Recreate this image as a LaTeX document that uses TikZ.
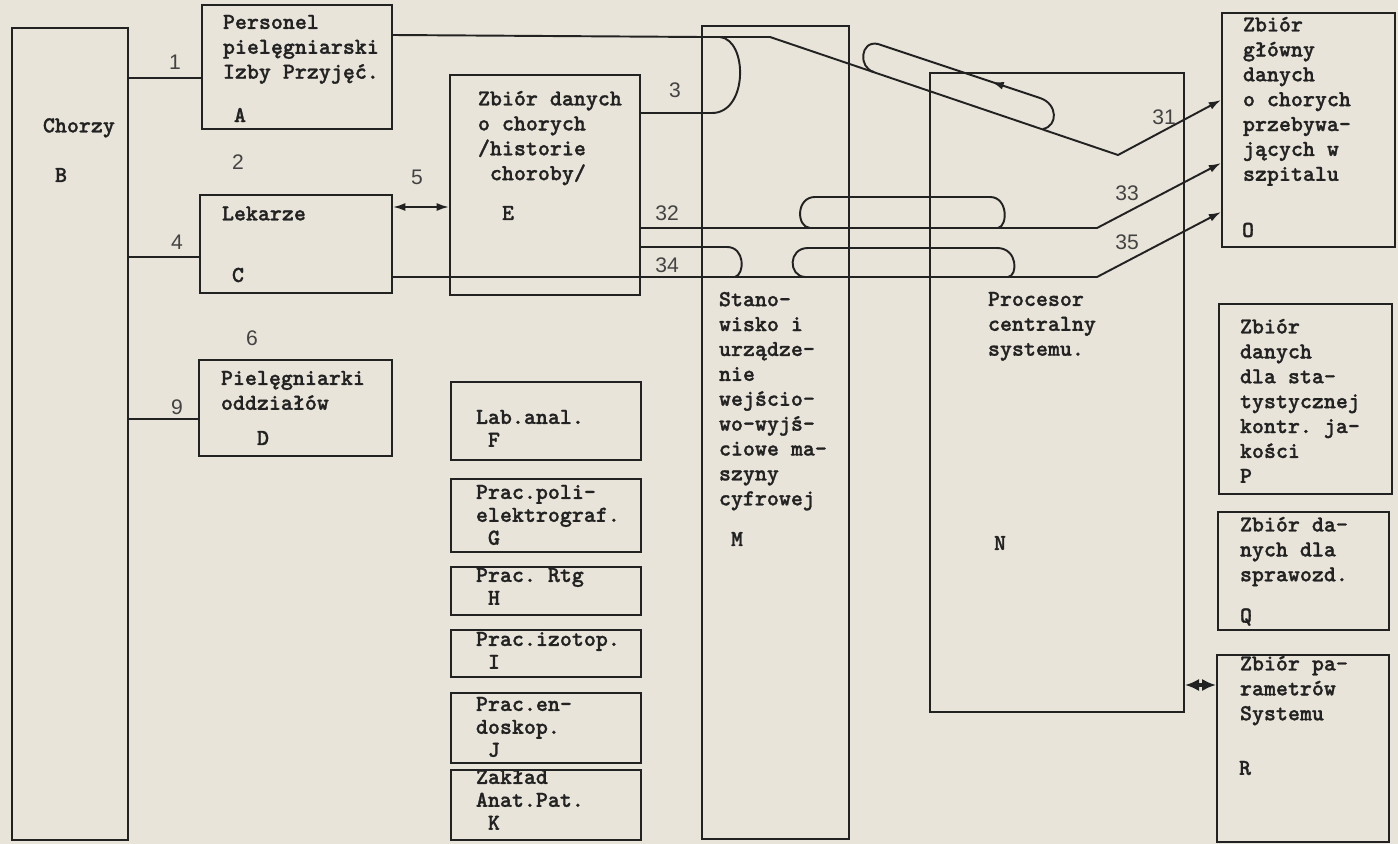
\documentclass[tikz,border=0pt]{standalone}
\usepackage{fontspec}
\setsansfont{Liberation Sans}
\newfontfamily\maszyna{lmmonolt10-bold.otf}[FakeBold=1.2]
\usepackage{tikz}
\usetikzlibrary{positioning, calc, fit, arrows.meta, decorations.markings}
\definecolor{papier}{RGB}{232,228,217}
\definecolor{tusz}{RGB}{34,34,34}
\frenchspacing

\begin{document}
\begin{tikzpicture}[x=0.02cm, y=-0.02cm, line width=1.1pt, color=tusz,
    >={Latex[length=7pt,width=4.5pt]},
    blok/.style={draw=tusz, line width=1.1pt, inner sep=0pt, fit={#1}},
    tekst/.style={anchor=north west, inner sep=0pt, align=left,
        font=\maszyna\fontsize{13}{14.17}\selectfont,
        execute at begin node=\strut},
    maly/.style={tekst, font=\maszyna\fontsize{13}{13.04}\selectfont},
    litera/.style={inner sep=0pt, font=\maszyna\fontsize{13}{14.17}\selectfont},
    nr/.style={inner sep=0pt, text=tusz!85, font=\sffamily\fontsize{12}{14}\selectfont},
    strzalka/.style={postaction={decorate},
        decoration={markings, mark=at position 0.3 with {\arrow{Latex[length=7pt,width=4.5pt]}}}}]

    % ==========================================
    % Paper and frame
    % ==========================================
    \fill[papier] (0,0) rectangle (1398,844);
    \useasboundingbox (0,0) rectangle (1398,844);

    % ==========================================
    % LEFT COLUMN: patients and staff
    % ==========================================
    \node[blok={(12,28) (128,840)}] (B) {};
    \node[tekst] (tB) at (42,114) {Chorzy};
    \node[litera] (lB) at (61,175) {B};

    \node[blok={(202,5) (392,129)}] (A) {};
    \node[tekst] (tA) at (222,14) {Personel\\pielęgniarski\\Izby Przyjęć.};
    \node[litera] (lA) at (240,115) {A};

    \node[blok={(200,195) (392,293)}] (C) {};
    \node[tekst] (tC) at (221,202) {Lekarze};
    \node[litera] (lC) at (238,275) {C};

    \node[blok={(199,360) (392,456)}] (D) {};
    \node[tekst] (tD) at (220,370) {Pielęgniarki\\oddziałów};
    \node[litera] (lD) at (263,438) {D};

    % ==========================================
    % MIDDLE: case records and departments
    % ==========================================
    \node[blok={(450,75) (640,295)}] (E) {};
    \node[tekst] (tE) at (477,90) {Zbiór danych\\o chorych\\/historie\\\hphantom{c}choroby/};
    \node[litera] (lE) at (508,213) {E};

    \node[blok={(451,382) (641,460)}] (F) {};
    \node[maly] (tF) at (475,409) {Lab.anal.\\\hphantom{x}F};
    \node[blok={(451,479) (641,552)}] (G) {};
    \node[maly] (tG) at (475,484) {Prac.poli-\\elektrograf.\\\hphantom{x}G};
    \node[blok={(451,567) (641,615)}] (H) {};
    \node[maly] (tH) at (475,567) {Prac. Rtg\\\hphantom{x}H};
    \node[blok={(451,630) (641,677)}] (I) {};
    \node[maly] (tI) at (475,631) {Prac.izotop.\\\hphantom{x}I};
    \node[blok={(451,693) (641,763)}] (J) {};
    \node[maly] (tJ) at (475,696) {Prac.en-\\doskop.\\\hphantom{x}J};
    \node[blok={(451,770) (641,840)}] (K) {};
    \node[maly] (tK) at (475,769) {Zakład\\Anat.Pat.\\\hphantom{x}K};

    \node[blok={(702,26) (849,839)}] (M) {};
    \node[tekst] (tM) at (718,291) {Stano-\\wisko i\\urządze-\\nie\\wejścio-\\wo-wyjś-\\ciowe ma-\\szyny\\cyfrowej};
    \node[litera] (lM) at (737,539) {M};

    \node[blok={(930,73) (1184,712)}] (N) {};
    \node[tekst] (tN) at (987,291) {Procesor\\centralny\\systemu.};
    \node[litera] (lN) at (1000,543) {N};

    % ==========================================
    % RIGHT COLUMN: data files
    % ==========================================
    \node[blok={(1222,13) (1395,247)}] (O) {};
    \node[tekst] (tO) at (1242,16) {Zbiór\\główny\\danych\\o chorych\\przebywa-\\jących w\\szpitalu};
    \node[litera] (lO) at (1248,230) {O};

    \node[blok={(1219,304) (1392,494)}] (P) {};
    \node[tekst] (tP) at (1239,318) {Zbiór\\danych\\dla sta-\\tystycznej\\kontr. ja-\\kości\\P};

    \node[blok={(1218,512) (1389,630)}] (Q) {};
    \node[tekst] (tQ) at (1239,516) {Zbiór da-\\nych dla\\sprawozd.};
    \node[litera] (lQ) at (1246,617) {Q};

    \node[blok={(1217,655) (1389,842)}] (R) {};
    \node[tekst] (tR) at (1239,655) {Zbiór pa-\\rametrów\\Systemu};
    \node[litera] (lR) at (1245,768) {R};

    % ==========================================
    % Connections
    % ==========================================
    % 1, 4, 9
    \draw (B.east |- 0,78) -- (A.west |- 0,78);
    \draw (B.east |- 0,257) -- (C.west |- 0,257);
    \draw (B.east |- 0,419) -- (D.west |- 0,419);
    % 5
    \draw[<->] (C.east |- 0,207) -- (E.west |- 0,207);

    % 31 (A through M and N to O)
    \coordinate (zagiecie) at (770,37);
    \coordinate (V) at (1118,155);
    \draw[->] (A.east |- 0,35) -- (M.west |- 0,37) -- (zagiecie) -- (V) -- (O.west |- 0,100);
    \draw (874,72) .. controls (858,68) and (860,40) .. (878,44);
    \draw[strzalka] (1040,98) -- (878,44);
    \draw (1040,98) .. controls (1058,104) and (1058,126) .. (1043,129);

    % 3
    \draw (E.east |- 0,113) -- (712,113) .. controls (748,113) and (748,40) .. (720,37);

    % 32 / 33
    \draw[->] (E.east |- 0,228) -- (1097,228) -- (O.west |- 0,163);
    \draw (810,228) .. controls (796,227) and (796,197) .. (815,197) -- (990,197)
        .. controls (1008,197) and (1008,226) .. (998,228);

    % 34 / 35
    \draw (E.east |- 0,247) -- (727,247) .. controls (745,247) and (745,274) .. (735,277);
    \draw[->] (C.east |- 0,277) -- (1097,277) -- (O.west |- 0,212);
    \draw (805,277) .. controls (788,276) and (788,248) .. (808,248) -- (997,248)
        .. controls (1018,248) and (1018,276) .. (1008,277);

    % N <-> R
    \draw[line width=2.2pt, {Latex[length=8pt,width=7pt]}-{Latex[length=8pt,width=7pt]}] (N.east |- 0,685) -- (R.west |- 0,685);

    % ==========================================
    % Line numbers
    % ==========================================
    \node[nr] (n1) at (175,62) {1};
    \node[nr] (n2) at (238,162) {2};
    \node[nr] (n4) at (177,242) {4};
    \node[nr] (n5) at (417,177) {5};
    \node[nr] (n6) at (252,338) {6};
    \node[nr] (n9) at (177,407) {9};
    \node[nr] (n3) at (675,90) {3};
    \node[nr] (n32) at (667,213) {32};
    \node[nr] (n34) at (667,265) {34};
    \node[nr] (n31) at (1164,117) {31};
    \node[nr] (n33) at (1127,193) {33};
    \node[nr] (n35) at (1127,242) {35};

\end{tikzpicture}
\end{document}
